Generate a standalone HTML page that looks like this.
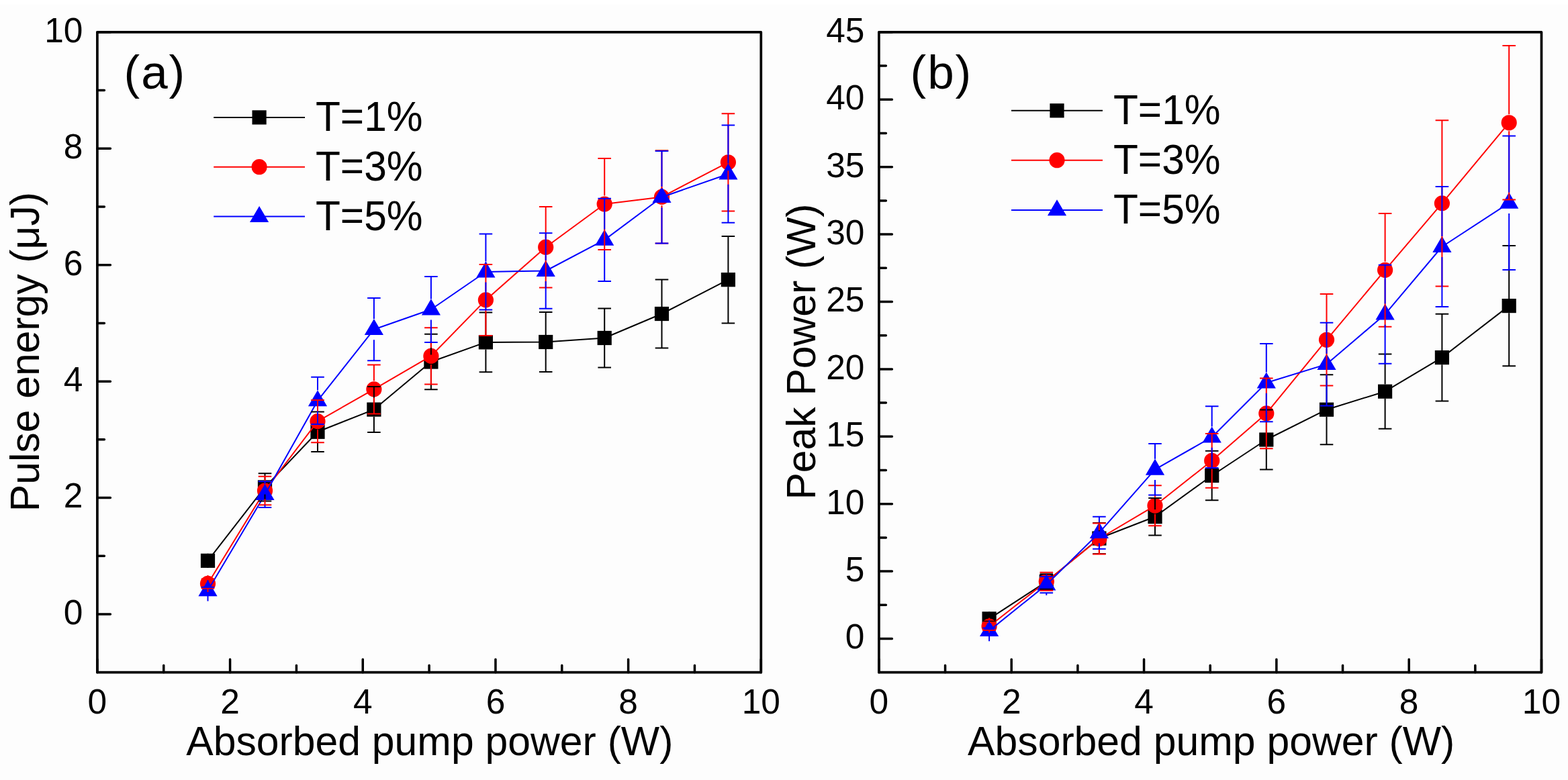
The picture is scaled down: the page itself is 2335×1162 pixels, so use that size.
<!DOCTYPE html>
<html><head><meta charset="utf-8"><title>Pulse energy and peak power vs absorbed pump power</title>
<style>html,body{margin:0;padding:0;background:#fff;overflow:hidden}svg{display:block}</style>
</head><body>
<svg width="2335" height="1162" viewBox="0 0 2335 1162" font-family="'Liberation Sans', Arial, sans-serif"><rect width="2335" height="1162" fill="#fdfdfd"/><rect width="2335" height="7" fill="#fff"/><path d="M144.90,1001.70V982.20M342.58,1001.70V982.20M540.26,1001.70V982.20M737.94,1001.70V982.20M935.62,1001.70V982.20M1133.30,1001.70V982.20M144.90,914.99H164.40M144.90,741.57H164.40M144.90,568.15H164.40M144.90,394.74H164.40M144.90,221.32H164.40M144.90,47.90H164.40" stroke="#000" stroke-width="3.5" stroke-linecap="round" fill="none"/><path d="M243.74,1001.70V991.20M441.42,1001.70V991.20M639.10,1001.70V991.20M836.78,1001.70V991.20M1034.46,1001.70V991.20M144.90,828.28H155.40M144.90,654.86H155.40M144.90,481.45H155.40M144.90,308.03H155.40M144.90,134.61H155.40" stroke="#000" stroke-width="3.5" stroke-linecap="round" fill="none"/><rect x="144.9" y="47.9" width="988.40" height="953.80" fill="none" stroke="#000" stroke-width="3.7" stroke-linejoin="round"/><text transform="translate(144.90,1062.90) scale(1.0,1.015)" font-size="51.5" text-anchor="middle">0</text><text transform="translate(342.58,1062.90) scale(1.0,1.015)" font-size="51.5" text-anchor="middle">2</text><text transform="translate(540.26,1062.90) scale(1.0,1.015)" font-size="51.5" text-anchor="middle">4</text><text transform="translate(737.94,1062.90) scale(1.0,1.015)" font-size="51.5" text-anchor="middle">6</text><text transform="translate(935.62,1062.90) scale(1.0,1.015)" font-size="51.5" text-anchor="middle">8</text><text transform="translate(1133.30,1062.90) scale(1.0,1.015)" font-size="51.5" text-anchor="middle">10</text><text transform="translate(123.50,929.89) scale(1.0,1.015)" font-size="51.5" text-anchor="end">0</text><text transform="translate(123.50,756.47) scale(1.0,1.015)" font-size="51.5" text-anchor="end">2</text><text transform="translate(123.50,583.05) scale(1.0,1.015)" font-size="51.5" text-anchor="end">4</text><text transform="translate(123.50,409.64) scale(1.0,1.015)" font-size="51.5" text-anchor="end">6</text><text transform="translate(123.50,236.22) scale(1.0,1.015)" font-size="51.5" text-anchor="end">8</text><text transform="translate(123.50,62.80) scale(1.0,1.015)" font-size="51.5" text-anchor="end">10</text><path d="M309.50,835.30L394.50,725.90L473.00,643.30L556.90,610.10L641.90,539.00L723.40,509.90L812.70,509.50L900.20,503.50L985.50,467.50L1084.40,416.70" stroke="#000" stroke-width="2" fill="none" stroke-linejoin="round"/><rect x="298.90" y="824.70" width="21.20" height="21.20" fill="#000"/><rect x="383.90" y="715.30" width="21.20" height="21.20" fill="#000"/><rect x="462.40" y="632.70" width="21.20" height="21.20" fill="#000"/><rect x="546.30" y="599.50" width="21.20" height="21.20" fill="#000"/><rect x="631.30" y="528.40" width="21.20" height="21.20" fill="#000"/><rect x="712.80" y="499.30" width="21.20" height="21.20" fill="#000"/><rect x="802.10" y="498.90" width="21.20" height="21.20" fill="#000"/><rect x="889.60" y="492.90" width="21.20" height="21.20" fill="#000"/><rect x="974.90" y="456.90" width="21.20" height="21.20" fill="#000"/><rect x="1073.80" y="406.10" width="21.20" height="21.20" fill="#000"/><path d="M309.50,869.40L394.50,731.00L473.00,627.60L556.90,579.90L641.90,530.40L723.40,446.90L812.70,368.20L900.20,304.00L985.50,293.40L1084.40,241.80" stroke="#f00" stroke-width="2" fill="none" stroke-linejoin="round"/><circle cx="309.50" cy="869.40" r="11.6" fill="#f00"/><circle cx="394.50" cy="731.00" r="11.6" fill="#f00"/><circle cx="473.00" cy="627.60" r="11.6" fill="#f00"/><circle cx="556.90" cy="579.90" r="11.6" fill="#f00"/><circle cx="641.90" cy="530.40" r="11.6" fill="#f00"/><circle cx="723.40" cy="446.90" r="11.6" fill="#f00"/><circle cx="812.70" cy="368.20" r="11.6" fill="#f00"/><circle cx="900.20" cy="304.00" r="11.6" fill="#f00"/><circle cx="985.50" cy="293.40" r="11.6" fill="#f00"/><circle cx="1084.40" cy="241.80" r="11.6" fill="#f00"/><path d="M309.50,879.80L394.50,736.70L473.00,596.90L556.90,490.70L641.90,461.00L723.40,405.00L812.70,403.50L900.20,357.40L985.50,293.70L1084.40,259.20" stroke="#00f" stroke-width="2" fill="none" stroke-linejoin="round"/><path d="M309.50,864.10L323.60,888.20L295.40,888.20Z" fill="#00f"/><path d="M394.50,721.00L408.60,745.10L380.40,745.10Z" fill="#00f"/><path d="M473.00,581.20L487.10,605.30L458.90,605.30Z" fill="#00f"/><path d="M556.90,475.00L571.00,499.10L542.80,499.10Z" fill="#00f"/><path d="M641.90,445.30L656.00,469.40L627.80,469.40Z" fill="#00f"/><path d="M723.40,389.30L737.50,413.40L709.30,413.40Z" fill="#00f"/><path d="M812.70,387.80L826.80,411.90L798.60,411.90Z" fill="#00f"/><path d="M900.20,341.70L914.30,365.80L886.10,365.80Z" fill="#00f"/><path d="M985.50,278.00L999.60,302.10L971.40,302.10Z" fill="#00f"/><path d="M1084.40,243.50L1098.50,267.60L1070.30,267.60Z" fill="#00f"/><path d="M309.50,824.70V831.30M299.70,831.30H319.30M309.50,845.90V839.30M299.70,839.30H319.30M394.50,715.30V705.20M384.70,705.20H404.30M394.50,736.50V746.60M384.70,746.60H404.30M473.00,632.70V613.60M463.20,613.60H482.80M473.00,653.90V673.00M463.20,673.00H482.80M556.90,599.50V576.10M547.10,576.10H566.70M556.90,620.70V644.10M547.10,644.10H566.70M641.90,528.40V497.80M632.10,497.80H651.70M641.90,549.60V580.20M632.10,580.20H651.70M723.40,499.30V465.60M713.60,465.60H733.20M723.40,520.50V554.20M713.60,554.20H733.20M812.70,498.90V465.00M802.90,465.00H822.50M812.70,520.10V554.00M802.90,554.00H822.50M900.20,492.90V459.60M890.40,459.60H910.00M900.20,514.10V547.40M890.40,547.40H910.00M985.50,456.90V416.40M975.70,416.40H995.30M985.50,478.10V518.60M975.70,518.60H995.30M1084.40,406.10V352.00M1074.60,352.00H1094.20M1084.40,427.30V481.40M1074.60,481.40H1094.20" stroke="#000" stroke-width="2" fill="none"/><path d="M309.50,856.90V862.40M299.70,862.40H319.30M309.50,881.90V876.40M299.70,876.40H319.30M394.50,718.50V709.70M384.70,709.70H404.30M394.50,743.50V752.30M384.70,752.30H404.30M473.00,615.10V595.90M463.20,595.90H482.80M473.00,640.10V659.30M463.20,659.30H482.80M556.90,567.40V543.40M547.10,543.40H566.70M556.90,592.40V616.40M547.10,616.40H566.70M641.90,517.90V488.20M632.10,488.20H651.70M641.90,542.90V572.60M632.10,572.60H651.70M723.40,434.40V393.90M713.60,393.90H733.20M723.40,459.40V499.90M713.60,499.90H733.20M812.70,355.70V308.00M802.90,308.00H822.50M812.70,380.70V428.40M802.90,428.40H822.50M900.20,291.50V236.10M890.40,236.10H910.00M900.20,316.50V371.90M890.40,371.90H910.00M985.50,280.90V224.30M975.70,224.30H995.30M985.50,305.90V362.50M975.70,362.50H995.30M1084.40,229.30V169.20M1074.60,169.20H1094.20M1084.40,254.30V314.40M1074.60,314.40H1094.20" stroke="#f00" stroke-width="2" fill="none"/><path d="M309.50,864.20V874.80M299.70,874.80H319.30M309.50,895.40V884.80M299.70,884.80H319.30M394.50,721.10V717.30M384.70,717.30H404.30M394.50,752.30V756.10M384.70,756.10H404.30M473.00,581.30V561.70M463.20,561.70H482.80M473.00,612.50V632.10M463.20,632.10H482.80M556.90,475.10V444.10M547.10,444.10H566.70M556.90,506.30V537.30M547.10,537.30H566.70M641.90,445.40V412.00M632.10,412.00H651.70M641.90,476.60V510.00M632.10,510.00H651.70M723.40,389.40V348.40M713.60,348.40H733.20M723.40,420.60V461.60M713.60,461.60H733.20M812.70,387.90V347.30M802.90,347.30H822.50M812.70,419.10V459.70M802.90,459.70H822.50M900.20,341.80V295.70M890.40,295.70H910.00M900.20,373.00V419.10M890.40,419.10H910.00M985.50,278.10V225.00M975.70,225.00H995.30M985.50,309.30V362.40M975.70,362.40H995.30M1084.40,243.60V186.60M1074.60,186.60H1094.20M1084.40,274.80V331.80M1074.60,331.80H1094.20" stroke="#00f" stroke-width="2" fill="none"/><path d="M318.2,174.9H454.0" stroke="#000" stroke-width="2"/><rect x="375.50" y="164.30" width="21.20" height="21.20" fill="#000"/><text transform="translate(469.90,194.90) scale(1.0,1.025)" font-size="60.5" text-anchor="start">T=1%</text><path d="M318.2,248.7H454.0" stroke="#f00" stroke-width="2"/><circle cx="386.10" cy="248.70" r="11.6" fill="#f00"/><text transform="translate(469.90,268.70) scale(1.0,1.025)" font-size="60.5" text-anchor="start">T=3%</text><path d="M318.2,322.6H454.0" stroke="#00f" stroke-width="2"/><path d="M386.10,306.90L400.20,331.00L372.00,331.00Z" fill="#00f"/><text transform="translate(469.90,342.60) scale(1.0,1.025)" font-size="60.5" text-anchor="start">T=5%</text><text transform="translate(184.60,131.60)" font-size="71" text-anchor="start" letter-spacing="1.9">(a)</text><text transform="translate(58.00,762.17) rotate(-90)" font-size="60.6" text-anchor="start">Pulse energy (μJ)</text><text transform="translate(277.18,1124.60)" font-size="60.7" text-anchor="start">Absorbed pump power (W)</text><path d="M1308.90,1001.70V982.20M1506.22,1001.70V982.20M1703.54,1001.70V982.20M1900.86,1001.70V982.20M2098.18,1001.70V982.20M2295.50,1001.70V982.20M1308.90,951.50H1328.40M1308.90,851.10H1328.40M1308.90,750.70H1328.40M1308.90,650.30H1328.40M1308.90,549.90H1328.40M1308.90,449.50H1328.40M1308.90,349.10H1328.40M1308.90,248.70H1328.40M1308.90,148.30H1328.40M1308.90,47.90H1328.40" stroke="#000" stroke-width="3.5" stroke-linecap="round" fill="none"/><path d="M1407.56,1001.70V991.20M1604.88,1001.70V991.20M1802.20,1001.70V991.20M1999.52,1001.70V991.20M2196.84,1001.70V991.20M1308.90,901.30H1319.40M1308.90,800.90H1319.40M1308.90,700.50H1319.40M1308.90,600.10H1319.40M1308.90,499.70H1319.40M1308.90,399.30H1319.40M1308.90,298.90H1319.40M1308.90,198.50H1319.40M1308.90,98.10H1319.40" stroke="#000" stroke-width="3.5" stroke-linecap="round" fill="none"/><rect x="1308.9" y="47.9" width="986.60" height="953.80" fill="none" stroke="#000" stroke-width="3.7" stroke-linejoin="round"/><text transform="translate(1308.90,1062.90) scale(1.0,1.015)" font-size="51.5" text-anchor="middle">0</text><text transform="translate(1506.22,1062.90) scale(1.0,1.015)" font-size="51.5" text-anchor="middle">2</text><text transform="translate(1703.54,1062.90) scale(1.0,1.015)" font-size="51.5" text-anchor="middle">4</text><text transform="translate(1900.86,1062.90) scale(1.0,1.015)" font-size="51.5" text-anchor="middle">6</text><text transform="translate(2098.18,1062.90) scale(1.0,1.015)" font-size="51.5" text-anchor="middle">8</text><text transform="translate(2295.50,1062.90) scale(1.0,1.015)" font-size="51.5" text-anchor="middle">10</text><text transform="translate(1287.50,966.40) scale(1.0,1.015)" font-size="51.5" text-anchor="end">0</text><text transform="translate(1287.50,866.00) scale(1.0,1.015)" font-size="51.5" text-anchor="end">5</text><text transform="translate(1287.50,765.60) scale(1.0,1.015)" font-size="51.5" text-anchor="end">10</text><text transform="translate(1287.50,665.20) scale(1.0,1.015)" font-size="51.5" text-anchor="end">15</text><text transform="translate(1287.50,564.80) scale(1.0,1.015)" font-size="51.5" text-anchor="end">20</text><text transform="translate(1287.50,464.40) scale(1.0,1.015)" font-size="51.5" text-anchor="end">25</text><text transform="translate(1287.50,364.00) scale(1.0,1.015)" font-size="51.5" text-anchor="end">30</text><text transform="translate(1287.50,263.60) scale(1.0,1.015)" font-size="51.5" text-anchor="end">35</text><text transform="translate(1287.50,163.20) scale(1.0,1.015)" font-size="51.5" text-anchor="end">40</text><text transform="translate(1287.50,62.80) scale(1.0,1.015)" font-size="51.5" text-anchor="end">45</text><path d="M1473.10,921.80L1558.30,866.50L1636.90,802.00L1720.00,769.70L1804.70,708.50L1885.80,655.00L1975.50,610.20L2062.60,583.20L2147.40,532.60L2247.20,455.60" stroke="#000" stroke-width="2" fill="none" stroke-linejoin="round"/><rect x="1462.50" y="911.20" width="21.20" height="21.20" fill="#000"/><rect x="1547.70" y="855.90" width="21.20" height="21.20" fill="#000"/><rect x="1626.30" y="791.40" width="21.20" height="21.20" fill="#000"/><rect x="1709.40" y="759.10" width="21.20" height="21.20" fill="#000"/><rect x="1794.10" y="697.90" width="21.20" height="21.20" fill="#000"/><rect x="1875.20" y="644.40" width="21.20" height="21.20" fill="#000"/><rect x="1964.90" y="599.60" width="21.20" height="21.20" fill="#000"/><rect x="2052.00" y="572.60" width="21.20" height="21.20" fill="#000"/><rect x="2136.80" y="522.00" width="21.20" height="21.20" fill="#000"/><rect x="2236.60" y="445.00" width="21.20" height="21.20" fill="#000"/><path d="M1473.10,933.00L1558.30,866.30L1636.90,802.50L1720.00,753.30L1804.70,686.30L1885.80,615.90L1975.50,506.30L2062.60,402.30L2147.40,302.90L2247.20,182.80" stroke="#f00" stroke-width="2" fill="none" stroke-linejoin="round"/><circle cx="1473.10" cy="933.00" r="11.6" fill="#f00"/><circle cx="1558.30" cy="866.30" r="11.6" fill="#f00"/><circle cx="1636.90" cy="802.50" r="11.6" fill="#f00"/><circle cx="1720.00" cy="753.30" r="11.6" fill="#f00"/><circle cx="1804.70" cy="686.30" r="11.6" fill="#f00"/><circle cx="1885.80" cy="615.90" r="11.6" fill="#f00"/><circle cx="1975.50" cy="506.30" r="11.6" fill="#f00"/><circle cx="2062.60" cy="402.30" r="11.6" fill="#f00"/><circle cx="2147.40" cy="302.90" r="11.6" fill="#f00"/><circle cx="2247.20" cy="182.80" r="11.6" fill="#f00"/><path d="M1473.10,939.60L1558.30,871.10L1636.90,793.70L1720.00,699.30L1804.70,651.20L1885.80,570.20L1975.50,542.60L2062.60,468.20L2147.40,367.50L2247.20,302.30" stroke="#00f" stroke-width="2" fill="none" stroke-linejoin="round"/><path d="M1473.10,923.90L1487.20,948.00L1459.00,948.00Z" fill="#00f"/><path d="M1558.30,855.40L1572.40,879.50L1544.20,879.50Z" fill="#00f"/><path d="M1636.90,778.00L1651.00,802.10L1622.80,802.10Z" fill="#00f"/><path d="M1720.00,683.60L1734.10,707.70L1705.90,707.70Z" fill="#00f"/><path d="M1804.70,635.50L1818.80,659.60L1790.60,659.60Z" fill="#00f"/><path d="M1885.80,554.50L1899.90,578.60L1871.70,578.60Z" fill="#00f"/><path d="M1975.50,526.90L1989.60,551.00L1961.40,551.00Z" fill="#00f"/><path d="M2062.60,452.50L2076.70,476.60L2048.50,476.60Z" fill="#00f"/><path d="M2147.40,351.80L2161.50,375.90L2133.30,375.90Z" fill="#00f"/><path d="M2247.20,286.60L2261.30,310.70L2233.10,310.70Z" fill="#00f"/><path d="M1473.10,911.20V917.80M1463.30,917.80H1482.90M1473.10,932.40V925.80M1463.30,925.80H1482.90M1558.30,855.90V855.30M1548.50,855.30H1568.10M1558.30,877.10V877.70M1548.50,877.70H1568.10M1636.90,791.40V779.00M1627.10,779.00H1646.70M1636.90,812.60V825.00M1627.10,825.00H1646.70M1720.00,759.10V741.90M1710.20,741.90H1729.80M1720.00,780.30V797.50M1710.20,797.50H1729.80M1804.70,697.90V671.70M1794.90,671.70H1814.50M1804.70,719.10V745.30M1794.90,745.30H1814.50M1885.80,644.40V610.50M1876.00,610.50H1895.60M1885.80,665.60V699.50M1876.00,699.50H1895.60M1975.50,599.60V558.20M1965.70,558.20H1985.30M1975.50,620.80V662.20M1965.70,662.20H1985.30M2062.60,572.60V527.60M2052.80,527.60H2072.40M2062.60,593.80V638.80M2052.80,638.80H2072.40M2147.40,522.00V467.70M2137.60,467.70H2157.20M2147.40,543.20V597.50M2137.60,597.50H2157.20M2247.20,445.00V366.00M2237.40,366.00H2257.00M2247.20,466.20V545.20M2237.40,545.20H2257.00" stroke="#000" stroke-width="2" fill="none"/><path d="M1473.10,920.50V927.00M1463.30,927.00H1482.90M1473.10,945.50V939.00M1463.30,939.00H1482.90M1558.30,853.80V852.80M1548.50,852.80H1568.10M1558.30,878.80V879.80M1548.50,879.80H1568.10M1636.90,790.00V779.50M1627.10,779.50H1646.70M1636.90,815.00V825.50M1627.10,825.50H1646.70M1720.00,740.80V723.30M1710.20,723.30H1729.80M1720.00,765.80V783.30M1710.20,783.30H1729.80M1804.70,673.80V645.90M1794.90,645.90H1814.50M1804.70,698.80V726.70M1794.90,726.70H1814.50M1885.80,603.40V563.50M1876.00,563.50H1895.60M1885.80,628.40V668.30M1876.00,668.30H1895.60M1975.50,493.80V438.10M1965.70,438.10H1985.30M1975.50,518.80V574.50M1965.70,574.50H1985.30M2062.60,389.80V317.90M2052.80,317.90H2072.40M2062.60,414.80V486.70M2052.80,486.70H2072.40M2147.40,290.40V179.20M2137.60,179.20H2157.20M2147.40,315.40V426.60M2137.60,426.60H2157.20M2247.20,170.30V68.00M2237.40,68.00H2257.00M2247.20,195.30V297.60M2237.40,297.60H2257.00" stroke="#f00" stroke-width="2" fill="none"/><path d="M1473.10,924.00V935.60M1463.30,935.60H1482.90M1473.10,955.20V943.60M1463.30,943.60H1482.90M1558.30,855.50V858.90M1548.50,858.90H1568.10M1558.30,886.70V883.30M1548.50,883.30H1568.10M1636.90,778.10V769.70M1627.10,769.70H1646.70M1636.90,809.30V817.70M1627.10,817.70H1646.70M1720.00,683.70V661.10M1710.20,661.10H1729.80M1720.00,714.90V737.50M1710.20,737.50H1729.80M1804.70,635.60V605.30M1794.90,605.30H1814.50M1804.70,666.80V697.10M1794.90,697.10H1814.50M1885.80,554.60V512.10M1876.00,512.10H1895.60M1885.80,585.80V628.30M1876.00,628.30H1895.60M1975.50,527.00V480.80M1965.70,480.80H1985.30M1975.50,558.20V604.40M1965.70,604.40H1985.30M2062.60,452.60V394.70M2052.80,394.70H2072.40M2062.60,483.80V541.70M2052.80,541.70H2072.40M2147.40,351.90V278.10M2137.60,278.10H2157.20M2147.40,383.10V456.90M2137.60,456.90H2157.20M2247.20,286.70V202.60M2237.40,202.60H2257.00M2247.20,317.90V402.00M2237.40,402.00H2257.00" stroke="#00f" stroke-width="2" fill="none"/><path d="M1506,164.8H1642" stroke="#000" stroke-width="2"/><rect x="1563.40" y="154.20" width="21.20" height="21.20" fill="#000"/><text transform="translate(1657.90,184.80) scale(1.0,1.025)" font-size="60.5" text-anchor="start">T=1%</text><path d="M1506,238.7H1642" stroke="#f00" stroke-width="2"/><circle cx="1574.00" cy="238.70" r="11.6" fill="#f00"/><text transform="translate(1657.90,258.70) scale(1.0,1.025)" font-size="60.5" text-anchor="start">T=3%</text><path d="M1506,312.9H1642" stroke="#00f" stroke-width="2"/><path d="M1574.00,297.20L1588.10,321.30L1559.90,321.30Z" fill="#00f"/><text transform="translate(1657.90,332.90) scale(1.0,1.025)" font-size="60.5" text-anchor="start">T=5%</text><text transform="translate(1355.60,132.10)" font-size="71" text-anchor="start" letter-spacing="1.9">(b)</text><text transform="translate(1213.90,744.57) rotate(-90)" font-size="60.6" text-anchor="start">Peak Power (W)</text><text transform="translate(1441.08,1125.30)" font-size="60.7" text-anchor="start">Absorbed pump power (W)</text></svg>
</body></html>
